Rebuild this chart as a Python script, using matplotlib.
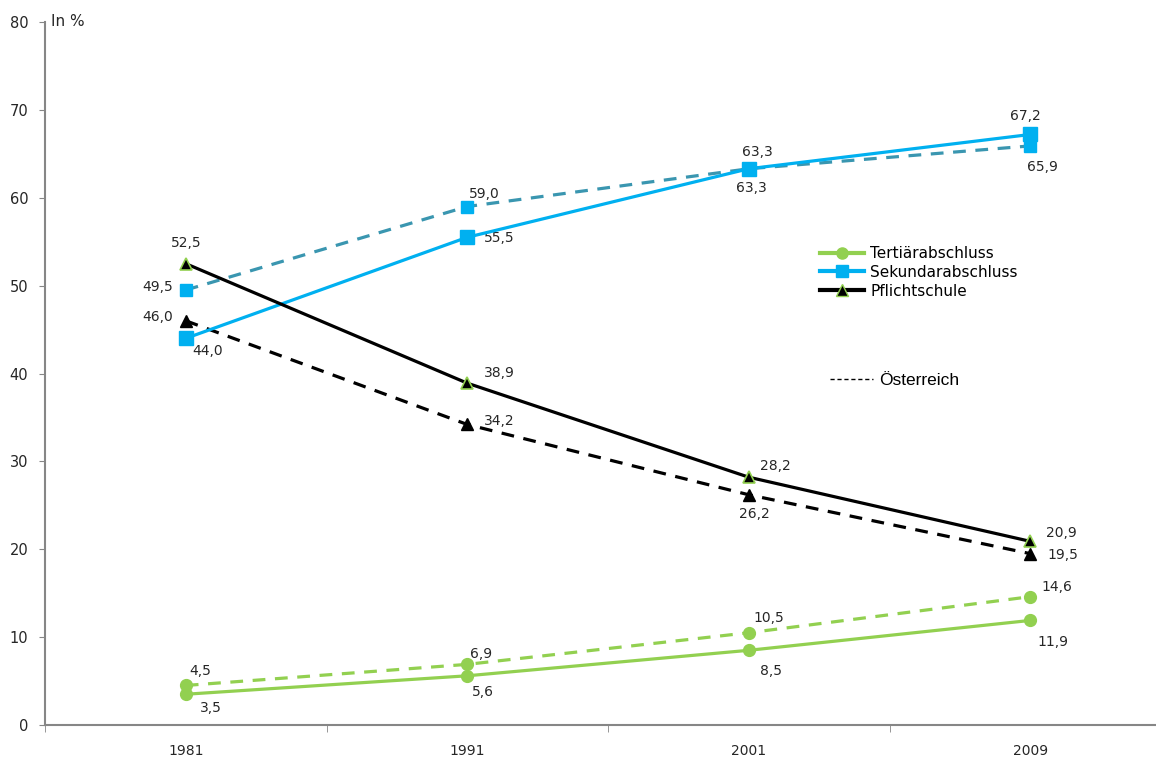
import matplotlib
matplotlib.use("Agg")
import matplotlib.pyplot as plt
from matplotlib.lines import Line2D

plt.rcParams['font.family'] = ['DejaVu Sans']

years = ["1981", "1991", "2001", "2009"]

# Region values (solid) and Austria values (dashed)
tert_region = [3.5, 5.6, 8.5, 11.9]
tert_austria = [4.5, 6.9, 10.5, 14.6]
sek_region = [44.0, 55.5, 63.3, 67.2]
sek_austria = [49.5, 59.0, 63.3, 65.9]
pfl_region = [52.5, 38.9, 28.2, 20.9]
pfl_austria = [46.0, 34.2, 26.2, 19.5]

GREEN = "#92d050"
BLUE = "#00b0f0"
TEAL = "#3a96b0"
GREY = "#868686"
TXT = "#262626"

fig = plt.figure(figsize=(11.56, 7.61), dpi=100)
ax = fig.add_axes([45 / 1156, 1 - 725 / 761, (1171 - 45) / 1156, (725 - 22) / 761])

x = list(range(len(years)))
dash = (0, (4, 3))
lw = 2.3

ax.plot(x, tert_austria, color=GREEN, lw=lw, ls=dash, marker="o", ms=8.5,
        mfc=GREEN, mec=GREEN, zorder=3)
ax.plot(x, tert_region, color=GREEN, lw=lw, marker="o", ms=8.5,
        mfc=GREEN, mec=GREEN, zorder=3)
ax.plot(x, sek_austria, color=TEAL, lw=lw, ls=dash, marker="s", ms=9,
        mfc=BLUE, mec=BLUE, zorder=3)
ax.plot(x, sek_region, color=BLUE, lw=lw, marker="s", ms=9.5,
        mfc=BLUE, mec=BLUE, zorder=4)
ax.plot(x, pfl_austria, color="black", lw=lw, ls=dash, marker="^", ms=9,
        mfc="black", mec="black", zorder=3)
ax.plot(x, pfl_region, color="black", lw=lw, marker="^", ms=9,
        mfc="black", mec=GREEN, mew=1.2, zorder=4)

# Value labels: offsets in pixels from each point
label_offsets = {
    "tert_region": [(25, -14), (16, -16), (22, -21), (23, -22)],
    "tert_austria": [(15, 14), (14, 10), (20, 15), (27, 10)],
    "sek_region": [(22, -13), (32, -1), (9, 17), (-5, 18)],
    "sek_austria": [(-28, 3), (17, 13), (3, -19), (12, -21)],
    "pfl_region": [(1, 21), (32, 10), (27, 11), (31, 8)],
    "pfl_austria": [(-28, 4), (32, 3), (6, -19), (33, -1)],
}
series = {
    "tert_region": tert_region, "tert_austria": tert_austria,
    "sek_region": sek_region, "sek_austria": sek_austria,
    "pfl_region": pfl_region, "pfl_austria": pfl_austria,
}
for key, vals in series.items():
    for i, v in enumerate(vals):
        ax.annotate(f"{v:.1f}".replace(".", ","), (i, v),
                    xytext=label_offsets[key][i], textcoords="offset pixels",
                    ha="center", va="center", fontsize=10, color=TXT)

ax.set_xlim(-0.5, 3.5)
ax.set_ylim(0, 80)
ax.set_yticks(range(0, 81, 10))
ax.set_xticks(x)
ax.set_xticklabels(years)
ax.set_xticks([-0.5, 0.5, 1.5, 2.5, 3.5], minor=True)
ax.tick_params(axis="x", which="major", length=0, pad=14, labelsize=10, labelcolor=TXT)
ax.tick_params(axis="x", which="minor", length=5, color=GREY, direction="out")
ax.tick_params(axis="y", length=4, color=GREY, labelsize=10.5, labelcolor=TXT, pad=8)
for side in ("top", "right"):
    ax.spines[side].set_visible(False)
for side in ("left", "bottom"):
    ax.spines[side].set_color(GREY)
    ax.spines[side].set_linewidth(1.5)

fig.text(51 / 1156, 1 - 22 / 761, "In %", fontsize=11, color=TXT,
         ha="left", va="center")

handles = [
    Line2D([], [], color=GREEN, lw=3, marker="o", ms=8, mfc=GREEN, mec=GREEN),
    Line2D([], [], color=BLUE, lw=3, marker="s", ms=8, mfc=BLUE, mec=BLUE),
    Line2D([], [], color="black", lw=3, marker="^", ms=8, mfc="black", mec=GREEN),
]
fig.legend(handles, ["Tertiärabschluss", "Sekundarabschluss", "Pflichtschule"],
           loc="upper left", bbox_to_anchor=(820 / 1156, 1 - 246 / 761),
           frameon=False, handlelength=2.9, handletextpad=0.4,
           labelspacing=0.25, borderaxespad=0, borderpad=0,
           prop={"family": "DejaVu Sans", "size": 11})
fig.legend([Line2D([], [], color="black", lw=1, ls=(0, (3, 2)))], ["\u00d6sterreich"],
           loc="upper left", bbox_to_anchor=(830 / 1156, 1 - 373 / 761),
           frameon=False, handlelength=2.5, handletextpad=0.34,
           borderaxespad=0, borderpad=0,
           prop={"family": "Liberation Sans", "size": 12.5})

fig.savefig("out.png", dpi=100)
